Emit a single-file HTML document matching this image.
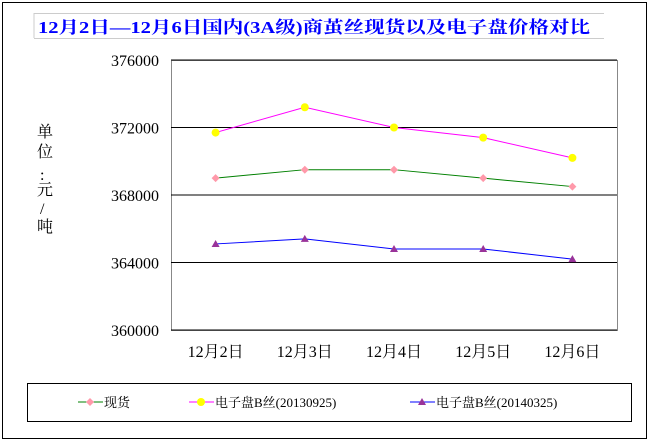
<!DOCTYPE html>
<html><head><meta charset="utf-8"><style>
body{margin:0;background:#fff;}
svg text{font-family:"Liberation Serif","Noto Serif CJK SC",serif;}
</style></head><body>
<svg width="649" height="441" xmlns="http://www.w3.org/2000/svg">
<rect x="2.5" y="2.5" width="644" height="436" fill="#fff" stroke="#000"/>
<g stroke="#ccc" stroke-width="1">
<line x1="34" y1="13.5" x2="604" y2="13.5"/><line x1="34" y1="38.5" x2="604" y2="38.5"/>
<line x1="34" y1="13" x2="34" y2="38"/>
</g>
<text x="38" y="33" font-size="17" font-weight="bold" fill="#0000ff" textLength="552" lengthAdjust="spacingAndGlyphs" font-family='"Liberation Mono","Noto Sans CJK SC",monospace'>12月2日—12月6日国内(3A级)商茧丝现货以及电子盘价格对比</text>
<g font-size="16" fill="#000" font-family='"Noto Sans CJK SC",sans-serif'>
<text x="37" y="137">单</text><text x="37" y="157">位</text><text x="40" y="180">:</text><text x="37" y="195">元</text><text x="40" y="214">/</text><text x="37" y="232">吨</text>
</g>
<g id="plot"></g>
<rect x="27.5" y="383.5" width="604" height="38" fill="none" stroke="#000"/>
<g font-size="13">
<g><line x1="78" y1="402" x2="103" y2="402" stroke="green"/><path d="M90 398 L94 402 L90 406 L86 402Z" fill="#f9a"/><text x="104" y="407">现货</text></g>
<g><line x1="189" y1="402" x2="214" y2="402" stroke="#f0f"/><circle cx="201" cy="402" r="4" fill="#ff0"/><text x="215" y="407">电子盘B丝(20130925)</text></g>
<g><line x1="410" y1="402" x2="435" y2="402" stroke="#00f"/><path d="M422 398 L426 405 L418 405Z" fill="#939"/><text x="436" y="407">电子盘B丝(20140325)</text></g>
</g>
</svg>
<script>
const categories=["12月2日","12月3日","12月4日","12月5日","12月6日"];
const spot=[369000,369500,369500,369000,368500];
const b20130925=[371700,373200,372000,371400,370200];
const b20140325=[365100,365400,364800,364800,364200];
const yTicks=[360000,364000,368000,372000,376000];
const NS="http://www.w3.org/2000/svg";
const L=171,R=617,T=60,B=330,yMin=360000,yMax=376000;
const y=v=>B-(v-yMin)/(yMax-yMin)*(B-T);
const x=i=>L+(i+0.5)*(R-L)/categories.length;
const g=document.getElementById('plot');
function mk(t,a){const e=document.createElementNS(NS,t);for(const k in a)e.setAttribute(k,a[k]);g.appendChild(e);return e;}
const frame=mk('rect',{x:L+.5,y:T+.5,width:R-L,height:B-T,fill:'none',stroke:'#888'});


yTicks.forEach(v=>{
 const ln=mk('line',{x1:L,x2:R,y1:y(v),y2:y(v),stroke:'#000'});
 
 
 const t=mk('text',{x:L-12,y:y(v)+6,'text-anchor':'end','font-size':'16'});t.textContent=v;
 
 
});
categories.forEach((c,i)=>{
 const t=mk('text',{x:x(i),y:B+27,'text-anchor':'middle','font-size':'16'});t.textContent=c;
 
 
});
function series(data,color,marker,name){
 const p=mk('polyline',{points:data.map((v,i)=>x(i)+','+y(v)).join(' '),fill:'none',stroke:color});
 
 
 data.forEach((v,i)=>{
  const cx=x(i),cy=y(v);let m;
  if(marker==='d')m=mk('path',{d:`M${cx} ${cy-4}L${cx+4} ${cy}L${cx} ${cy+4}L${cx-4} ${cy}Z`,fill:'#f9a'});
  else if(marker==='c')m=mk('circle',{cx:cx,cy:cy,r:4,fill:'#ff0'});
  else m=mk('path',{d:`M${cx} ${cy-4}L${cx+4} ${cy+3}L${cx-4} ${cy+3}Z`,fill:'#939'});
  
  
 });
}
series(spot,'green','d','spot');
series(b20130925,'#f0f','c','b20130925');
series(b20140325,'#00f','t','b20140325');
</script>
</body></html>
